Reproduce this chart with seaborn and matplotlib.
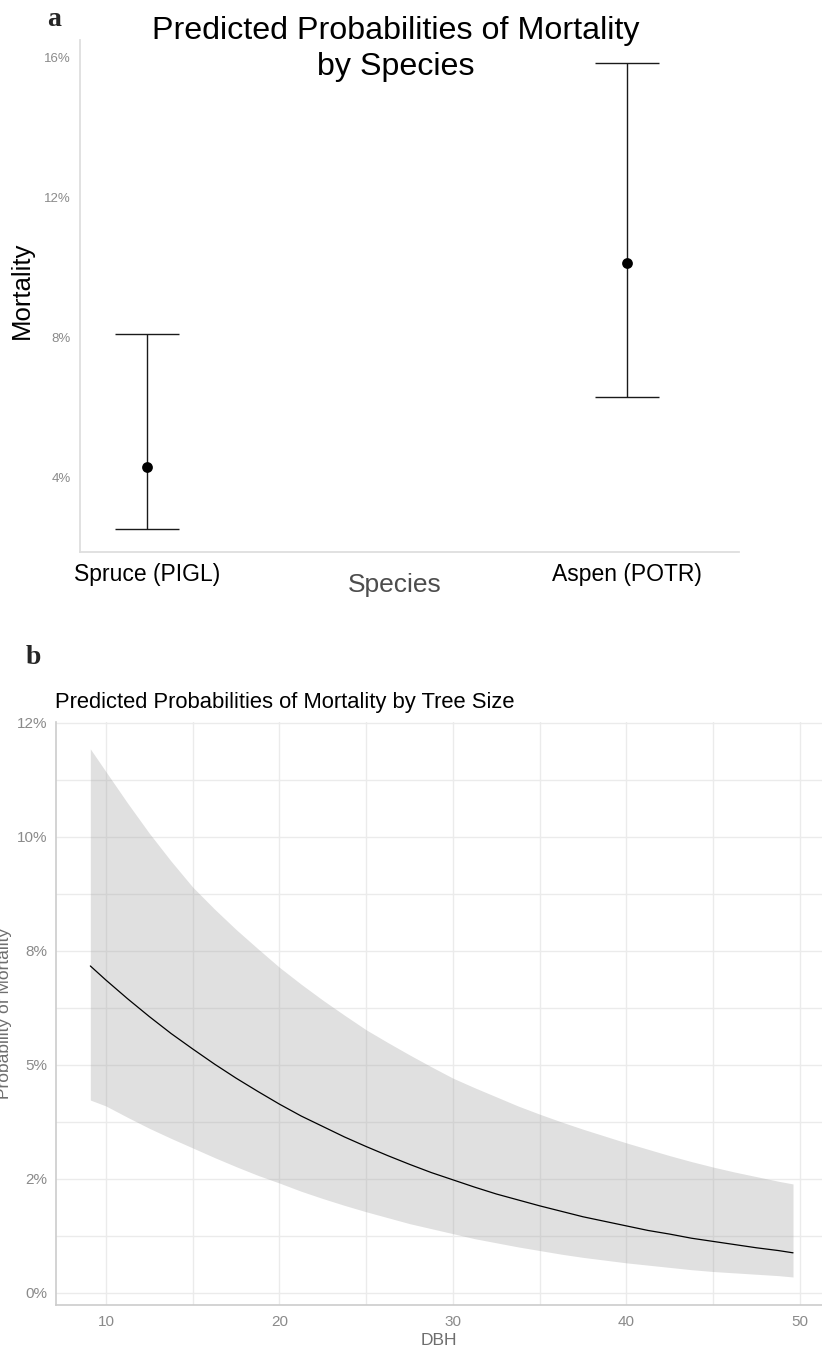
import matplotlib
matplotlib.use("Agg")
import matplotlib.pyplot as plt
import seaborn as sns
import numpy as np
import pandas as pd

# ---------------- data ----------------
# Panel a: predicted mortality by species (%)
species = ["Spruce (PIGL)", "Aspen (POTR)"]
species_pred = [4.29, 10.11]
species_lo = [2.51, 6.29]
species_hi = [8.09, 15.83]
a_yticks = [4, 8, 12, 16]
a_yticklabels = ["4%", "8%", "12%", "16%"]

# Panel b: predicted mortality by DBH (%)
dbh = [9.1, 10, 11.25, 12.5, 13.75, 15, 16.25, 17.5, 18.75, 20, 21.25, 22.5, 23.75,
       25, 26.25, 27.5, 28.75, 30, 31.25, 32.5, 33.75, 35, 36.25, 37.5, 38.75,
       40, 41.25, 42.5, 43.75, 45, 46.25, 47.5, 48.75, 49.6]
pred = [7.17, 6.86, 6.45, 6.06, 5.69, 5.35, 5.02, 4.71, 4.42, 4.14, 3.88, 3.65, 3.42,
        3.21, 3.01, 2.82, 2.64, 2.48, 2.32, 2.17, 2.04, 1.91, 1.79, 1.67, 1.57,
        1.47, 1.37, 1.29, 1.20, 1.13, 1.06, 0.99, 0.93, 0.88]
upper = [11.93, 11.43, 10.74, 10.08, 9.47, 8.90, 8.42, 7.97, 7.55, 7.14, 6.77, 6.42, 6.09,
         5.77, 5.49, 5.22, 4.96, 4.71, 4.50, 4.30, 4.10, 3.92, 3.75, 3.59, 3.44,
         3.29, 3.15, 3.01, 2.88, 2.76, 2.65, 2.55, 2.45, 2.39]
lower = [4.23, 4.10, 3.85, 3.61, 3.39, 3.18, 2.97, 2.77, 2.58, 2.41, 2.23, 2.07, 1.92,
         1.78, 1.65, 1.52, 1.41, 1.30, 1.19, 1.10, 1.01, 0.93, 0.85, 0.78, 0.72,
         0.66, 0.61, 0.56, 0.51, 0.47, 0.44, 0.41, 0.38, 0.35]
b_xticks = [10, 20, 30, 40, 50]
b_yticks = [0, 2.5, 5, 7.5, 10, 12.5]
b_yticklabels = ["0%", "2%", "5%", "8%", "10%", "12%"]

# ---------------- style ----------------
sns.set_theme(style="white")
plt.rcParams["font.family"] = ["Liberation Sans", "DejaVu Sans"]

fig = plt.figure(figsize=(8.22, 13.52), dpi=100)

# ---------------- panel a ----------------
ax1 = fig.add_axes([0.0973, 0.5917, 0.8017, 0.3787])
df_a = pd.DataFrame({"Species": species, "Mortality": species_pred})
sns.scatterplot(data=df_a, x="Species", y="Mortality", ax=ax1, color="black",
                s=60, edgecolor="black", linewidth=0, zorder=3)
pos = np.arange(len(species))
pred_a = np.array(species_pred)
ax1.errorbar(pos, pred_a,
             yerr=[pred_a - np.array(species_lo), np.array(species_hi) - pred_a],
             fmt="none", ecolor="#1a1a1a", elinewidth=1.0, capsize=23,
             capthick=1.0, zorder=2)
ax1.set_xlim(-0.1396, 1.233)
ax1.set_ylim(1.857, 16.49)
ax1.set_yticks(a_yticks)
ax1.set_yticklabels(a_yticklabels)
ax1.tick_params(axis="y", length=0, pad=6.5, labelsize=9.5, labelcolor="#8a8a8a")
ax1.tick_params(axis="x", length=0, pad=8, labelsize=16.5, labelcolor="black")
for s in ["top", "right"]:
    ax1.spines[s].set_visible(False)
for s in ["left", "bottom"]:
    ax1.spines[s].set_color("#dedede")
    ax1.spines[s].set_linewidth(1.3)
ax1.set_xlabel("")
ax1.set_ylabel("")
ax1.grid(False)

fig.text(395 / 822, 1 - 585 / 1352, "Species", ha="center", va="center",
         fontsize=19, color="#4d4d4d")
fig.text(22 / 822, 1 - 290 / 1352, "Mortality", ha="center", va="center",
         rotation=90, fontsize=18.5, color="black")
fig.text(396 / 822, 1 - 49 / 1352, "Predicted Probabilities of Mortality\nby Species",
         ha="center", va="center", fontsize=23.2, color="black", linespacing=1.25)
fig.text(54 / 822, 1 - 20 / 1352, "a", ha="center", va="center", fontsize=20,
         fontweight="bold", family=["Liberation Serif", "DejaVu Serif"])

# ---------------- panel b ----------------
ax2 = fig.add_axes([0.0681, 0.0348, 1 - 0.0681, 0.4312])
ax2.set_xlim(7.12, 51.27)
ax2.set_ylim(-0.263, 12.52)
ax2.set_xticks(b_xticks)
ax2.set_xticks([15, 25, 35, 45], minor=True)
ax2.set_yticks(b_yticks)
ax2.set_yticklabels(b_yticklabels)
ax2.set_yticks([1.25, 3.75, 6.25, 8.75, 11.25], minor=True)
ax2.grid(True, which="both", color="#ebebeb", linewidth=1.0)
ax2.set_axisbelow(True)
ax2.fill_between(dbh, lower, upper, color="#999999", alpha=0.3, linewidth=0, zorder=2)
df_b = pd.DataFrame({"DBH": dbh, "Prob": pred})
sns.lineplot(data=df_b, x="DBH", y="Prob", ax=ax2, color="black", linewidth=0.9, zorder=3)
ax2.tick_params(axis="both", which="both", length=0, labelsize=11, labelcolor="#8a8a8a")
ax2.tick_params(axis="y", pad=6.5)
ax2.tick_params(axis="x", pad=7)
for s in ["top", "right"]:
    ax2.spines[s].set_visible(False)
for s in ["left", "bottom"]:
    ax2.spines[s].set_color("#cccccc")
    ax2.spines[s].set_linewidth(1.2)
ax2.set_xlabel("DBH", fontsize=12.5, color="#6e6e6e", labelpad=3)
ax2.set_ylabel("")
fig.text(5 / 822, 1 - 1013 / 1352, "Probability of Mortality", ha="center", va="center",
         rotation=90, fontsize=12.5, color="#6e6e6e")
fig.text(55 / 822, 1 - 702 / 1352, "Predicted Probabilities of Mortality by Tree Size",
         ha="left", va="center", fontsize=15.8, color="black")
fig.text(33 / 822, 1 - 657 / 1352, "b", ha="center", va="center", fontsize=20,
         fontweight="bold", family=["Liberation Serif", "DejaVu Serif"])

fig.savefig("out.png", dpi=100)
